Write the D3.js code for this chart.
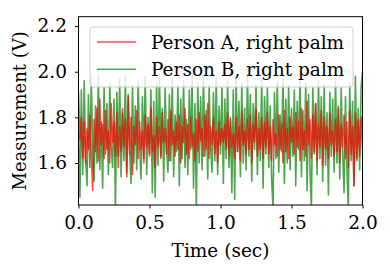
<!DOCTYPE html>
<html lang="en">
<head>
<meta charset="utf-8">
<title>Palm measurement</title>
<script src="https://cdn.jsdelivr.net/npm/d3@7"></script>
<style>
  body { margin: 0; background: #fff; }
  text { font-family: "DejaVu Serif", serif; fill: #000; }
  .axis path, .axis line { stroke: #000; stroke-width: 1; }
  .axis text { font-size: 18.5px; }
</style>
</head>
<body>
<svg width="390" height="273"></svg>
<script>
// sample spacing of the recording (seconds)
var dt = 0.01;

var xTicks = [0.0, 0.5, 1.0, 1.5, 2.0];
var yTicks = [1.6, 1.8, 2.0, 2.2];

var seriesNames = ["Person A, right palm", "Person B, right palm"];

// Person A, right palm (V)
var personA = [
  1.91,1.70,1.80,1.62,1.78,1.60,1.75,1.66,1.81,1.63,1.48,1.79,1.65,1.84,1.61,1.88,1.68,1.77,1.62,1.83,
  1.66,1.74,1.60,1.86,1.69,1.78,1.63,1.82,1.58,1.76,1.65,1.84,1.67,1.79,1.54,1.89,1.64,1.80,1.55,1.76,
  1.68,1.83,1.62,1.78,1.66,1.74,1.60,1.81,1.67,1.77,1.63,1.84,1.65,1.72,1.58,1.80,1.67,1.76,1.62,1.82,
  1.69,1.75,1.64,1.79,1.61,1.83,1.68,1.74,1.63,1.78,1.66,1.81,1.60,1.76,1.69,1.84,1.64,1.77,1.62,1.80,
  1.67,1.73,1.61,1.79,1.65,1.82,1.70,1.75,1.63,1.81,1.66,1.86,1.62,1.76,1.68,1.80,1.64,1.74,1.60,1.78,
  1.68,1.75,1.69,1.77,1.66,1.82,1.63,1.79,1.67,1.73,1.62,1.80,1.65,1.76,1.61,1.83,1.68,1.74,1.64,1.79,
  1.66,1.81,1.60,1.77,1.69,1.84,1.63,1.75,1.66,1.80,1.62,1.78,1.67,1.82,1.64,1.76,1.61,1.79,1.68,1.73,
  1.63,1.81,1.66,1.77,1.60,1.83,1.65,1.75,1.62,1.80,1.69,1.76,1.64,1.82,1.67,1.78,1.61,1.84,1.66,1.74,
  1.63,1.87,1.68,1.79,1.62,1.81,1.65,1.86,1.61,1.77,1.67,1.83,1.59,1.80,1.66,1.76,1.62,1.82,1.68,1.74,
  1.63,1.79,1.65,1.84,1.60,1.77,1.67,1.81,1.62,1.78,1.58,1.83,1.64,1.76,1.50,1.82,1.61,1.79,1.63,1.80,
  1.66
];

// Person B, right palm (V)
var personB = [
  1.74,1.45,1.92,1.55,1.96,1.62,1.50,1.90,1.58,1.97,1.66,1.52,1.85,1.60,1.99,1.57,1.78,1.49,1.93,1.64,
  1.86,1.55,1.95,1.68,1.58,1.88,1.40,1.91,1.63,1.97,1.54,1.82,1.61,1.98,1.56,1.90,1.66,1.51,1.94,1.60,
  1.85,1.57,1.96,1.69,1.53,1.89,1.62,1.98,1.55,1.80,1.64,1.92,1.47,1.87,1.45,1.95,1.59,1.99,1.63,1.84,
  1.52,1.93,1.67,1.56,1.90,1.61,1.97,1.54,1.81,1.65,1.94,1.50,1.88,1.62,1.96,1.58,1.79,1.55,1.92,1.66,
  1.98,1.49,1.86,1.40,1.95,1.60,1.89,1.57,1.99,1.63,1.83,1.53,1.94,1.68,1.56,1.91,1.61,1.97,1.55,1.85,
  1.64,1.93,1.51,1.88,1.62,1.96,1.58,1.80,1.47,1.92,1.44,1.97,1.65,1.87,1.54,1.95,1.60,1.84,1.57,1.99,
  1.63,1.90,1.52,1.86,1.66,1.94,1.55,1.82,1.61,1.97,1.49,1.89,1.64,1.93,1.58,1.85,1.53,1.40,1.91,1.62,
  1.96,1.56,1.81,1.65,1.98,1.51,1.88,1.60,1.94,1.57,1.84,1.63,1.92,1.50,1.87,1.66,1.97,1.54,1.83,1.61,
  1.95,1.48,1.90,1.58,1.40,1.93,1.64,1.86,1.55,1.96,1.62,1.89,1.52,1.94,1.59,1.82,1.46,1.91,1.63,1.88,
  1.56,1.97,1.60,1.85,1.53,1.93,1.65,1.47,1.89,1.58,1.40,1.95,1.61,1.87,1.50,1.98,1.62,1.84,1.57,1.93,
  2.00
];

var svg = d3.select("svg");
var margin = {left: 78.5, right: 27.5, top: 16.7, bottom: 68};
var width = +svg.attr("width"), height = +svg.attr("height");

var x = d3.scaleLinear().domain([0, 2]).range([margin.left, width - margin.right]);
var y = d3.scaleLinear().domain([1.416, 2.241]).range([height - margin.bottom, margin.top]);

svg.append("defs").append("clipPath").attr("id", "plotclip")
  .append("rect")
    .attr("x", x(0)).attr("y", y(2.241))
    .attr("width", x(2) - x(0)).attr("height", y(1.416) - y(2.241));

var line = d3.line()
  .x(function(d, i) { return x(i * dt); })
  .y(function(d) { return y(d); });

var colors = ["rgba(255,0,0,0.7)", "rgba(0,128,0,0.7)"];

var plot = svg.append("g").attr("clip-path", "url(#plotclip)");

// B drawn first so A sits on top
plot.append("path")
  .datum(personB)
  .attr("d", line)
  .attr("fill", "none")
  .attr("stroke", colors[1])
  .attr("stroke-width", 1.6)
  .attr("stroke-linejoin", "round");

plot.append("path")
  .datum(personA)
  .attr("d", line)
  .attr("fill", "none")
  .attr("stroke", colors[0])
  .attr("stroke-width", 1.6)
  .attr("stroke-linejoin", "round");

// axes
svg.append("g")
  .attr("class", "axis")
  .attr("transform", "translate(0," + y(1.416) + ")")
  .call(d3.axisBottom(x).tickValues(xTicks).tickFormat(d3.format(".1f")).tickSize(3.5).tickPadding(7))
  .call(function(g) { g.select(".domain").remove(); });

svg.append("g")
  .attr("class", "axis")
  .attr("transform", "translate(" + x(0) + ",0)")
  .call(d3.axisLeft(y).tickValues(yTicks).tickFormat(d3.format(".1f")).tickSize(3.5).tickPadding(8))
  .call(function(g) { g.select(".domain").remove(); });

// frame
svg.append("rect")
  .attr("x", x(0)).attr("y", y(2.241))
  .attr("width", x(2) - x(0)).attr("height", y(1.416) - y(2.241))
  .attr("fill", "none").attr("stroke", "#000").attr("stroke-width", 1);

svg.append("text")
  .attr("x", (x(0) + x(2)) / 2).attr("y", 256.5)
  .attr("text-anchor", "middle")
  .style("font-size", "18.5px")
  .text("Time (sec)");

svg.append("text")
  .attr("transform", "translate(26," + (y(1.416) + y(2.241)) / 2 + ") rotate(-90)")
  .attr("text-anchor", "middle")
  .style("font-size", "18px")
  .text("Measurement (V)");

// legend
var legend = svg.append("g");
legend.append("rect")
  .attr("x", 90).attr("y", 27).attr("width", 263).attr("height", 60)
  .attr("rx", 3)
  .attr("fill", "rgba(255,255,255,0.8)")
  .attr("stroke", "#ccc").attr("stroke-width", 1);

seriesNames.forEach(function(name, i) {
  var ly = 42 + i * 27.3;
  legend.append("line")
    .attr("x1", 97).attr("x2", 136).attr("y1", ly).attr("y2", ly)
    .attr("stroke", colors[i]).attr("stroke-width", 1.6);
  legend.append("text")
    .attr("x", 151).attr("y", ly + 6.5)
    .style("font-size", "18.5px")
    .text(name);
});
</script>
</body>
</html>
